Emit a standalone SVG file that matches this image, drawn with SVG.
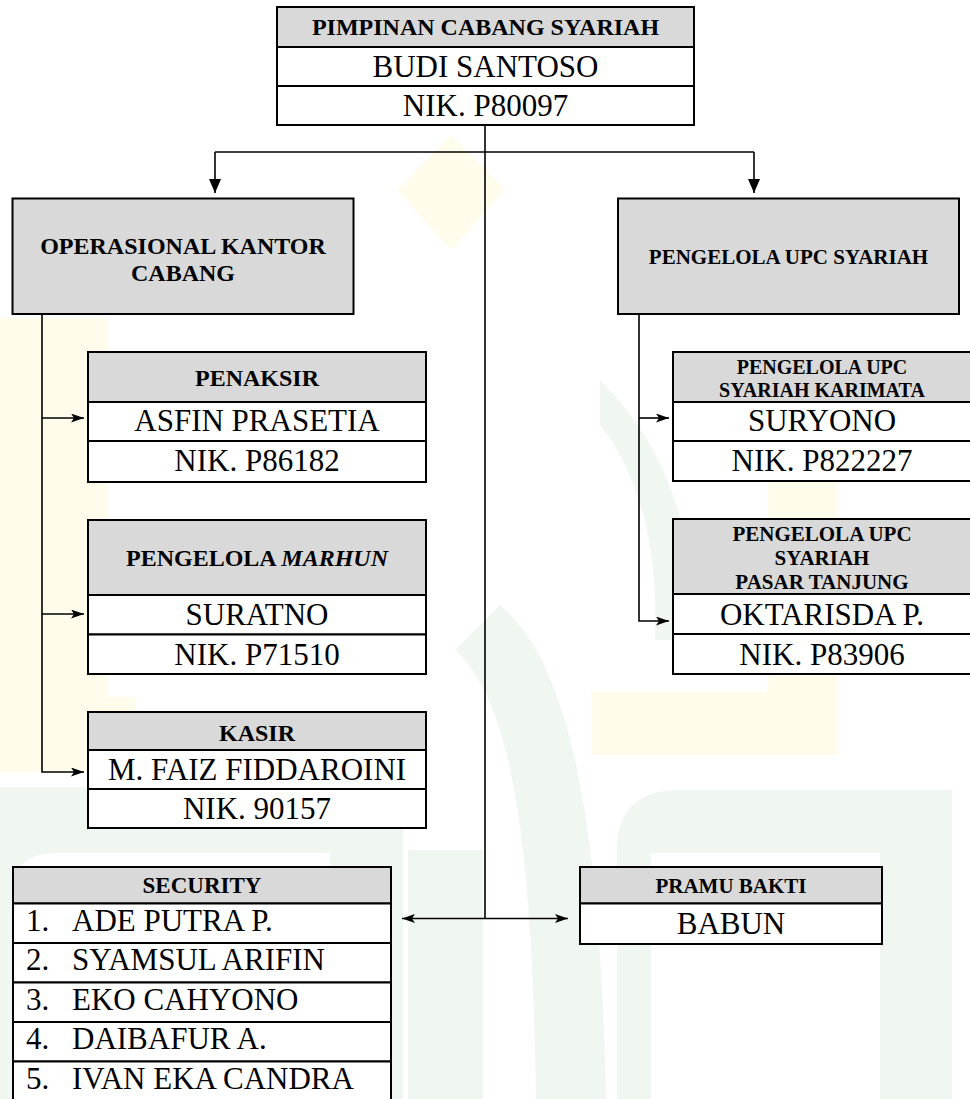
<svg xmlns="http://www.w3.org/2000/svg" width="970" height="1099" viewBox="0 0 970 1099">
<style>
.box{fill:#fff;stroke:#000;stroke-width:2}
.hdr{fill:#d9d9d9;stroke:#000;stroke-width:2}
.ht{font-family:"Liberation Serif","Times New Roman",serif;font-weight:bold;font-size:24px;text-anchor:middle;fill:#000}
.hs{font-family:"Liberation Serif","Times New Roman",serif;font-weight:bold;font-size:21px;text-anchor:middle;fill:#000}
.nm{font-family:"Liberation Serif","Times New Roman",serif;font-size:31px;text-anchor:middle;fill:#000}
.ls{font-family:"Liberation Serif","Times New Roman",serif;font-size:31px;fill:#000}
.ln{stroke:#000;stroke-width:1.6;fill:none}
.wy{fill:#fffcec}
.wg{fill:#f0f7f0}
</style>
<defs>
<marker id="big" markerUnits="userSpaceOnUse" markerWidth="14" markerHeight="12" refX="14" refY="6" orient="auto">
<path d="M0,0 L14,6 L0,12 Z" fill="#000"/>
</marker>
<marker id="sm" markerUnits="userSpaceOnUse" markerWidth="13" markerHeight="9" refX="13" refY="4.5" orient="auto-start-reverse">
<path d="M0,0 L13,4.5 L0,9 L3,4.5 Z" fill="#000"/>
</marker>
</defs>
<rect width="970" height="1099" fill="#fff"/>
<g id="watermark">
<polygon class="wy" points="451,135 505,190 451,250 397,190"/>
<rect class="wy" x="0" y="318" width="107" height="454"/>
<rect class="wy" x="0" y="697" width="135" height="75"/>
<rect class="wy" x="767" y="390" width="70" height="365"/>
<rect class="wy" x="591" y="692" width="246" height="63"/>
<path class="wg" fill-rule="evenodd" d="M0,787 H403 V1099 H0 Z M13,1099 V895 Q13,853 55,853 H330 V1099 Z"/>
<rect class="wg" x="408" y="850" width="75" height="249"/>
<path class="wg" d="M500,605 C565,660 600,800 606,1099 L536,1099 C532,830 510,700 455,650 Z"/>
<path class="wg" fill-rule="evenodd" d="M617,1099 V850 Q617,790 680,790 H952 V1099 Z M651,1099 V853 H880 V1099 Z"/>
<path class="wg" d="M600,380 Q700,480 692,640 L655,640 Q660,500 600,425 Z"/>
</g>
<g id="connectors">
<line class="ln" x1="485" y1="125" x2="485" y2="918.5"/>
<line class="ln" x1="215" y1="152" x2="754" y2="152"/>
<line class="ln" x1="215" y1="152" x2="215" y2="193" marker-end="url(#big)"/>
<line class="ln" x1="754" y1="152" x2="754" y2="193" marker-end="url(#big)"/>
<polyline class="ln" points="42,314 42,772 84,772" marker-end="url(#sm)"/>
<line class="ln" x1="42" y1="418" x2="84" y2="418" marker-end="url(#sm)"/>
<line class="ln" x1="42" y1="614" x2="84" y2="614" marker-end="url(#sm)"/>
<polyline class="ln" points="639,314 639,621 669,621" marker-end="url(#sm)"/>
<line class="ln" x1="639" y1="418" x2="669" y2="418" marker-end="url(#sm)"/>
<line class="ln" x1="402" y1="918.5" x2="568" y2="918.5" marker-start="url(#sm)" marker-end="url(#sm)"/>
</g>
<g id="pimpinan">
<rect class="hdr" x="277" y="7" width="417" height="40"/>
<rect class="box" x="277" y="47" width="417" height="39"/>
<rect class="box" x="277" y="86" width="417" height="39"/>
<text class="ht" x="485.5" y="35">PIMPINAN CABANG SYARIAH</text>
<text class="nm" x="485.5" y="77">BUDI SANTOSO</text>
<text class="nm" x="485.5" y="116">NIK. P80097</text>
</g>
<g id="operasional">
<rect class="hdr" x="12.5" y="198.5" width="341" height="115.5"/>
<text class="ht" x="183" y="254">OPERASIONAL KANTOR</text>
<text class="ht" x="183" y="281">CABANG</text>
</g>
<g id="upc">
<rect class="hdr" x="618" y="198.5" width="341" height="115.5"/>
<text class="hs" x="788.5" y="264">PENGELOLA UPC SYARIAH</text>
</g>
<g id="penaksir">
<rect class="hdr" x="88" y="352" width="338" height="50"/>
<rect class="box" x="88" y="402" width="338" height="39"/>
<rect class="box" x="88" y="441" width="338" height="41"/>
<text class="ht" x="257" y="386">PENAKSIR</text>
<text class="nm" x="257" y="431">ASFIN PRASETIA</text>
<text class="nm" x="257" y="471">NIK. P86182</text>
</g>
<g id="marhun">
<rect class="hdr" x="88" y="520" width="338" height="75"/>
<rect class="box" x="88" y="595" width="338" height="39.5"/>
<rect class="box" x="88" y="634.5" width="338" height="39.5"/>
<text class="ht" x="257" y="566">PENGELOLA <tspan font-style="italic">MARHUN</tspan></text>
<text class="nm" x="257" y="625">SURATNO</text>
<text class="nm" x="257" y="665">NIK. P71510</text>
</g>
<g id="kasir">
<rect class="hdr" x="88" y="712" width="338" height="38"/>
<rect class="box" x="88" y="750" width="338" height="39"/>
<rect class="box" x="88" y="789" width="338" height="39"/>
<text class="ht" x="257" y="741">KASIR</text>
<text class="nm" x="257" y="780">M. FAIZ FIDDAROINI</text>
<text class="nm" x="257" y="819">NIK. 90157</text>
</g>
<g id="karimata">
<rect class="hdr" x="673" y="352" width="298" height="50"/>
<rect class="box" x="673" y="402" width="298" height="39"/>
<rect class="box" x="673" y="441" width="298" height="40"/>
<text class="hs" x="822" y="374" style="font-size:20px">PENGELOLA UPC</text>
<text class="hs" x="822" y="396.5" style="font-size:20px">SYARIAH KARIMATA</text>
<text class="nm" x="822" y="431">SURYONO</text>
<text class="nm" x="822" y="471">NIK. P822227</text>
</g>
<g id="tanjung">
<rect class="hdr" x="673" y="519" width="298" height="75"/>
<rect class="box" x="673" y="594" width="298" height="40"/>
<rect class="box" x="673" y="634" width="298" height="40"/>
<text class="hs" x="822" y="541">PENGELOLA UPC</text>
<text class="hs" x="822" y="565">SYARIAH</text>
<text class="hs" x="822" y="589">PASAR TANJUNG</text>
<text class="nm" x="822" y="625">OKTARISDA P.</text>
<text class="nm" x="822" y="665">NIK. P83906</text>
</g>
<g id="security">
<rect class="hdr" x="13" y="867" width="378" height="36.5"/>
<rect class="box" x="13" y="903.5" width="378" height="39.5"/>
<rect class="box" x="13" y="943" width="378" height="39.5"/>
<rect class="box" x="13" y="982.5" width="378" height="39.5"/>
<rect class="box" x="13" y="1022" width="378" height="39.5"/>
<rect class="box" x="13" y="1061.5" width="378" height="40"/>
<text class="ht" x="202" y="893" style="font-size:23px">SECURITY</text>
<text class="ls" y="931"><tspan x="26">1.</tspan><tspan x="72">ADE PUTRA P.</tspan></text>
<text class="ls" y="970"><tspan x="26">2.</tspan><tspan x="72">SYAMSUL ARIFIN</tspan></text>
<text class="ls" y="1010"><tspan x="26">3.</tspan><tspan x="72">EKO CAHYONO</tspan></text>
<text class="ls" y="1049"><tspan x="26">4.</tspan><tspan x="72">DAIBAFUR A.</tspan></text>
<text class="ls" y="1089"><tspan x="26">5.</tspan><tspan x="72">IVAN EKA CANDRA</tspan></text>
</g>
<g id="pramu">
<rect class="hdr" x="580" y="867" width="302" height="36.5"/>
<rect class="box" x="580" y="903.5" width="302" height="40.5"/>
<text class="hs" x="731" y="893">PRAMU BAKTI</text>
<text class="nm" x="731" y="934">BABUN</text>
</g>
</svg>
